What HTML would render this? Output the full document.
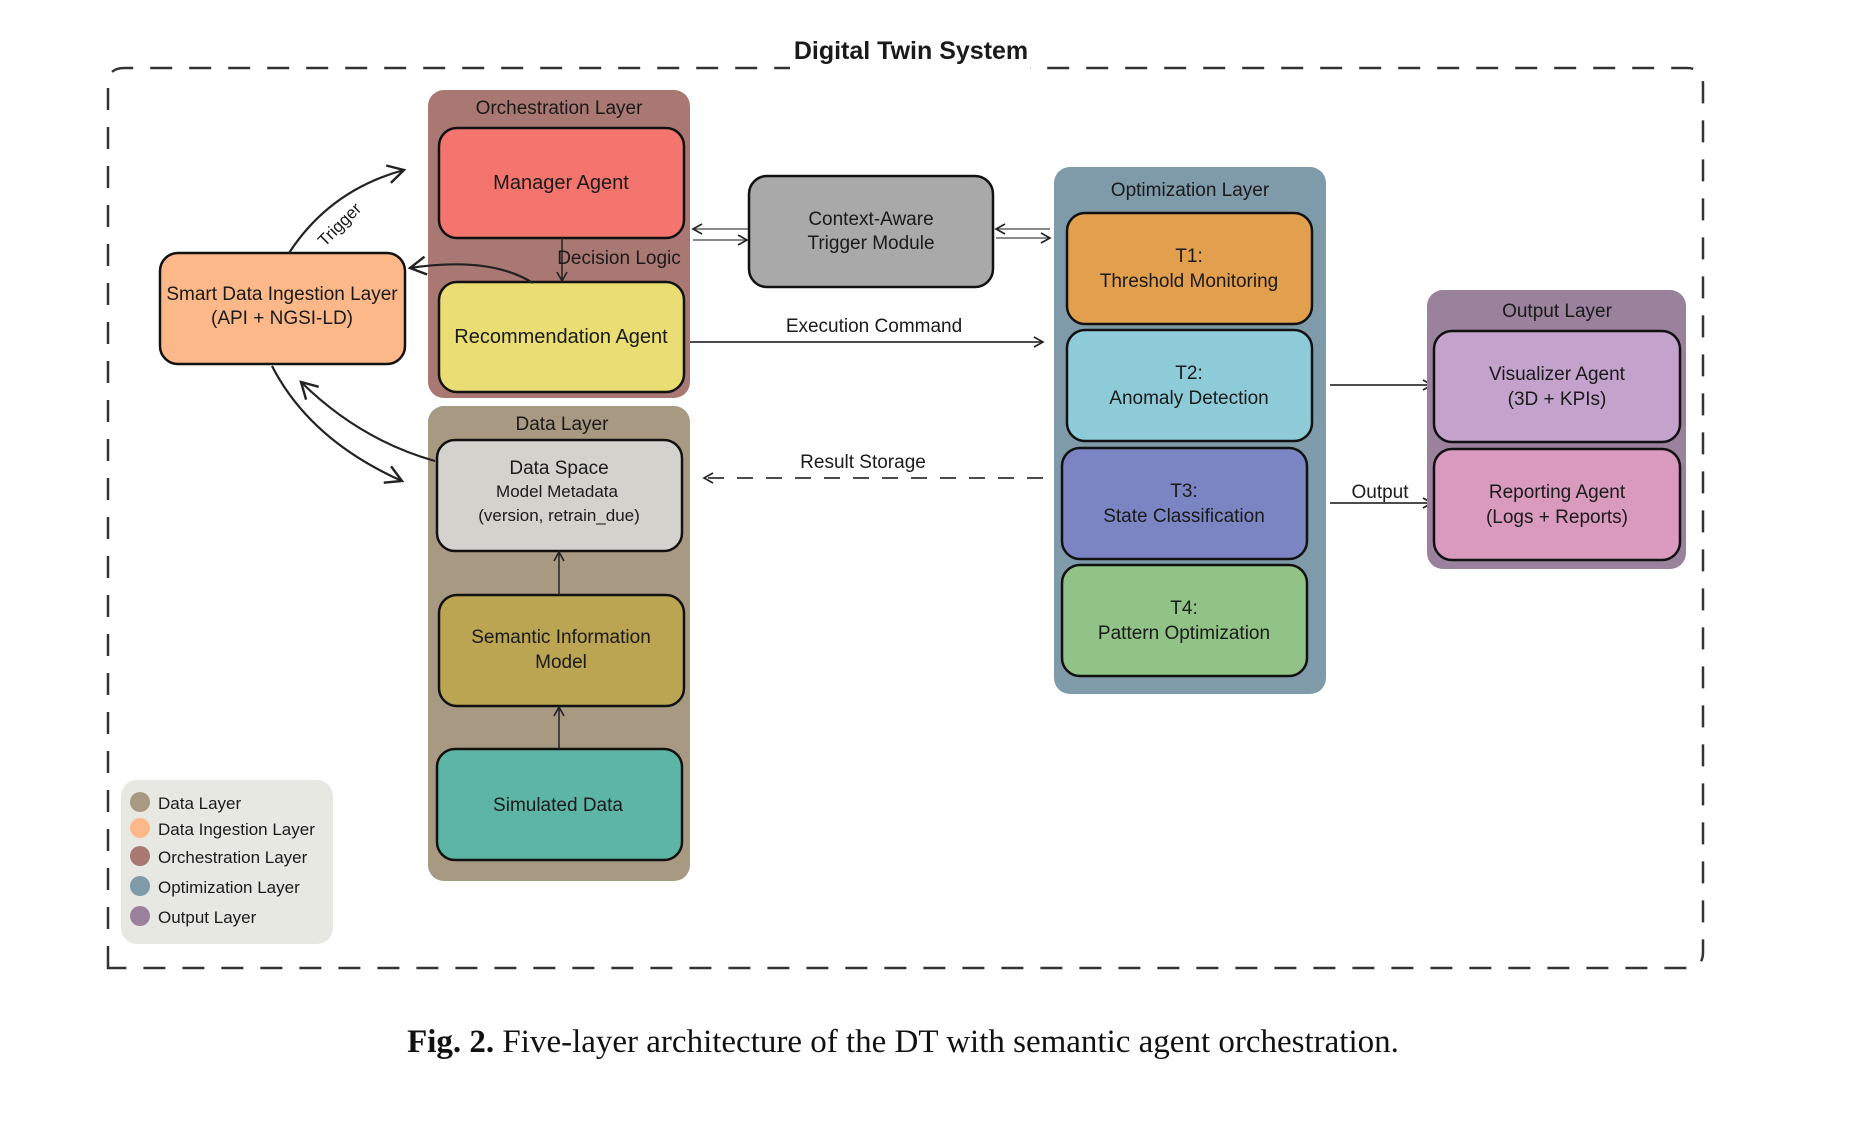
<!DOCTYPE html>
<html><head><meta charset="utf-8"><style>
html,body{margin:0;padding:0;background:#fff;}
svg{display:block;}
.t{font-family:"Liberation Sans Narrow","Liberation Sans",sans-serif;fill:#1a1a1a;text-anchor:middle;}
</style></head><body>
<svg width="1853" height="1125" viewBox="0 0 1853 1125" xmlns="http://www.w3.org/2000/svg">
<defs>
<marker id="a" markerWidth="12" markerHeight="12" refX="10" refY="6" orient="auto" markerUnits="userSpaceOnUse"><path d="M1,1 L10,6 L1,11" fill="none" stroke="#222" stroke-width="1.6"/></marker>
<marker id="b" markerWidth="22" markerHeight="22" refX="18" refY="11" orient="auto" markerUnits="userSpaceOnUse"><path d="M2,2 L18,11 L2,20" fill="none" stroke="#222" stroke-width="2.4"/></marker>
</defs>
<!-- outer dashed -->
<path d="M108,968 L108,84 Q108,68 124,68 L1687,68 Q1703,68 1703,84 L1703,952 Q1703,968 1687,968 Z" fill="none" stroke="#333" stroke-width="2.5" stroke-dasharray="22,17"/>
<rect x="790" y="30" width="240" height="40" fill="#fff"/>
<text class="t" x="911" y="59" font-size="25" font-weight="bold">Digital Twin System</text>

<!-- Orchestration -->
<rect x="428" y="90" width="262" height="308" rx="16" fill="#a97873"/>
<text class="t" x="559" y="114" font-size="19">Orchestration Layer</text>
<rect x="439" y="128" width="245" height="110" rx="18" fill="#f4756d" stroke="#111" stroke-width="2.5"/>
<text class="t" x="561" y="189" font-size="20">Manager Agent</text>
<rect x="439" y="282" width="245" height="110" rx="18" fill="#e9dd74" stroke="#111" stroke-width="2.5"/>
<text class="t" x="561" y="343" font-size="20">Recommendation Agent</text>
<line x1="562" y1="238" x2="562" y2="281" stroke="#222" stroke-width="1.5" marker-end="url(#a)"/>
<text class="t" x="619" y="264" font-size="19">Decision Logic</text>

<!-- Data layer -->
<rect x="428" y="406" width="262" height="475" rx="16" fill="#a89a82"/>
<text class="t" x="562" y="430" font-size="19">Data Layer</text>
<rect x="437" y="440" width="245" height="111" rx="18" fill="#d3d2cd" stroke="#111" stroke-width="2.5"/>
<text class="t" x="559" y="474" font-size="19">Data Space</text>
<text class="t" x="557" y="497" font-size="17">Model Metadata</text>
<text class="t" x="559" y="521" font-size="17">(version, retrain_due)</text>
<rect x="439" y="595" width="245" height="111" rx="18" fill="#bba452" stroke="#111" stroke-width="2.5"/>
<text class="t" x="561" y="643" font-size="19">Semantic Information</text>
<text class="t" x="561" y="668" font-size="19">Model</text>
<rect x="437" y="749" width="245" height="111" rx="18" fill="#5db6a5" stroke="#111" stroke-width="2.5"/>
<text class="t" x="558" y="811" font-size="19">Simulated Data</text>
<line x1="559" y1="749" x2="559" y2="707" stroke="#222" stroke-width="1.5" marker-end="url(#a)"/>
<line x1="559" y1="595" x2="559" y2="552" stroke="#222" stroke-width="1.5" marker-end="url(#a)"/>

<!-- Smart data ingestion -->
<rect x="160" y="253" width="245" height="111" rx="18" fill="#fdb88a" stroke="#111" stroke-width="2.5"/>
<text class="t" x="282" y="300" font-size="19">Smart Data Ingestion Layer</text>
<text class="t" x="282" y="324" font-size="19">(API + NGSI-LD)</text>

<!-- Trigger -->
<path d="M289,253 Q330,190 404,170" fill="none" stroke="#222" stroke-width="2.2" marker-end="url(#b)"/>
<text class="t" x="340" y="230" font-size="17" transform="rotate(-45 340 225)">Trigger</text>
<path d="M533,283 Q490,256 410,268" fill="none" stroke="#222" stroke-width="2.2" marker-end="url(#b)"/>
<path d="M272,366 Q310,440 402,481" fill="none" stroke="#222" stroke-width="2.2" marker-end="url(#b)"/>
<path d="M435,461 Q360,440 301,382" fill="none" stroke="#222" stroke-width="2.2" marker-end="url(#b)"/>

<!-- Context-aware -->
<rect x="749" y="176" width="244" height="111" rx="18" fill="#a9a9a9" stroke="#111" stroke-width="2.5"/>
<text class="t" x="871" y="225" font-size="19">Context-Aware</text>
<text class="t" x="871" y="249" font-size="19">Trigger Module</text>
<line x1="748" y1="229" x2="693" y2="229" stroke="#444" stroke-width="1.2" marker-end="url(#a)"/>
<line x1="693" y1="240" x2="747" y2="240" stroke="#444" stroke-width="1.2" marker-end="url(#a)"/>
<line x1="1050" y1="229" x2="996" y2="229" stroke="#444" stroke-width="1.2" marker-end="url(#a)"/>
<line x1="996" y1="238" x2="1050" y2="238" stroke="#444" stroke-width="1.2" marker-end="url(#a)"/>

<!-- Execution / result -->
<line x1="690" y1="342" x2="1043" y2="342" stroke="#333" stroke-width="1.8" marker-end="url(#a)"/>
<text class="t" x="874" y="332" font-size="19">Execution Command</text>
<line x1="1043" y1="478" x2="704" y2="478" stroke="#333" stroke-width="1.8" stroke-dasharray="16,13" marker-end="url(#a)"/>
<text class="t" x="863" y="468" font-size="19">Result Storage</text>

<!-- Optimization -->
<rect x="1054" y="167" width="272" height="527" rx="16" fill="#7f9aa8"/>
<text class="t" x="1190" y="196" font-size="19">Optimization Layer</text>
<rect x="1067" y="213" width="245" height="111" rx="18" fill="#e29f4d" stroke="#111" stroke-width="2.5"/>
<text class="t" x="1189" y="262" font-size="19">T1:</text>
<text class="t" x="1189" y="287" font-size="19">Threshold Monitoring</text>
<rect x="1067" y="330" width="245" height="111" rx="18" fill="#8ecbd8" stroke="#111" stroke-width="2.5"/>
<text class="t" x="1189" y="379" font-size="19">T2:</text>
<text class="t" x="1189" y="404" font-size="19">Anomaly Detection</text>
<rect x="1062" y="448" width="245" height="111" rx="18" fill="#7b85c3" stroke="#111" stroke-width="2.5"/>
<text class="t" x="1184" y="497" font-size="19">T3:</text>
<text class="t" x="1184" y="522" font-size="19">State Classification</text>
<rect x="1062" y="565" width="245" height="111" rx="18" fill="#92c386" stroke="#111" stroke-width="2.5"/>
<text class="t" x="1184" y="614" font-size="19">T4:</text>
<text class="t" x="1184" y="639" font-size="19">Pattern Optimization</text>

<!-- Output -->
<line x1="1330" y1="385" x2="1432" y2="385" stroke="#333" stroke-width="1.8" marker-end="url(#a)"/>
<line x1="1330" y1="503" x2="1432" y2="503" stroke="#333" stroke-width="1.8" marker-end="url(#a)"/>
<text class="t" x="1380" y="498" font-size="19">Output</text>
<rect x="1427" y="290" width="259" height="279" rx="16" fill="#9a819c"/>
<text class="t" x="1557" y="317" font-size="19">Output Layer</text>
<rect x="1434" y="331" width="246" height="111" rx="18" fill="#c3a3cb" stroke="#111" stroke-width="2.5"/>
<text class="t" x="1557" y="380" font-size="19">Visualizer Agent</text>
<text class="t" x="1557" y="405" font-size="19">(3D + KPIs)</text>
<rect x="1434" y="449" width="246" height="111" rx="18" fill="#d99abe" stroke="#111" stroke-width="2.5"/>
<text class="t" x="1557" y="498" font-size="19">Reporting Agent</text>
<text class="t" x="1557" y="523" font-size="19">(Logs + Reports)</text>

<!-- Legend -->
<rect x="121" y="780" width="212" height="164" rx="16" fill="#e8e8e3"/>
<circle cx="140" cy="802" r="10" fill="#a89a82"/><text class="t" x="158" y="809" font-size="17" style="text-anchor:start">Data Layer</text>
<circle cx="140" cy="828" r="10" fill="#fdb88a"/><text class="t" x="158" y="835" font-size="17" style="text-anchor:start">Data Ingestion Layer</text>
<circle cx="140" cy="856" r="10" fill="#a97873"/><text class="t" x="158" y="863" font-size="17" style="text-anchor:start">Orchestration Layer</text>
<circle cx="140" cy="886" r="10" fill="#7f9aa8"/><text class="t" x="158" y="893" font-size="17" style="text-anchor:start">Optimization Layer</text>
<circle cx="140" cy="916" r="10" fill="#9a819c"/><text class="t" x="158" y="923" font-size="17" style="text-anchor:start">Output Layer</text>

<!-- Caption -->
<text x="903" y="1052" font-family="Liberation Serif, serif" font-size="33" text-anchor="middle" fill="#111"><tspan font-weight="bold">Fig. 2.</tspan>  Five-layer architecture of the DT with semantic agent orchestration.</text>
</svg>
</body></html>
